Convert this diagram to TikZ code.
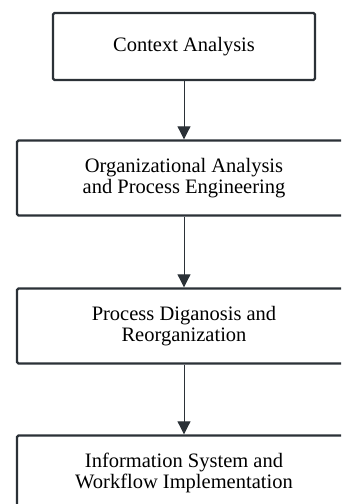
\documentclass[tikz,border=0pt]{standalone}
\usepackage{fontspec}
\setmainfont{Liberation Serif}
\usetikzlibrary{positioning, arrows.meta}

\tikzset{
	stepbox/.style={draw=linegray, line width=2.4pt, rounded corners=1.5pt, fill=white,
		align=center, inner sep=0pt, font=\fontsize{20.5}{21}\selectfont},
	flow/.style={draw=linegray, line width=1pt, -{Triangle[width=13pt,length=13pt]}}
}
\definecolor{linegray}{HTML}{2B3137}

\begin{document}
\begin{tikzpicture}[x=1pt,y=-1pt]
		\clip (0,0) rectangle (341,504);
		\node[stepbox, minimum width=262pt, minimum height=67pt] (ctx) at (184,46.5) {Context Analysis};
		\node[stepbox, minimum width=334pt, minimum height=75pt] (org) at (184,178) {Organizational Analysis\\and Process Engineering};
		\node[stepbox, minimum width=334pt, minimum height=75pt] (diag) at (184,326) {Process Diganosis and\\Reorganization};
		\node[stepbox, minimum width=334pt, minimum height=75pt] (impl) at (184,473) {Information System and\\Workflow Implementation};

		\draw[flow] (ctx) -- (org);
		\draw[flow] (org) -- (diag);
		\draw[flow] (diag) -- (impl);
	\end{tikzpicture}
\end{document}
